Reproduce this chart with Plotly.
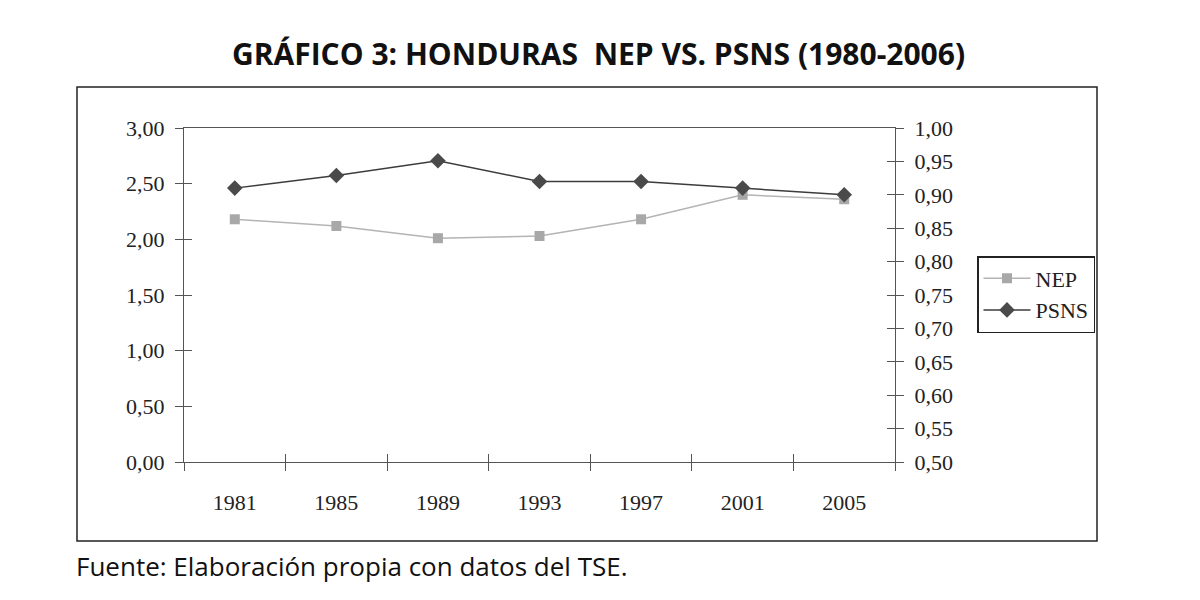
import plotly.graph_objects as go

years = ["1981", "1985", "1989", "1993", "1997", "2001", "2005"]
nep = [2.18, 2.12, 2.01, 2.03, 2.18, 2.40, 2.36]
psns = [0.910, 0.929, 0.951, 0.920, 0.920, 0.910, 0.900]

title_text = "GRÁFICO 3: HONDURAS  NEP VS. PSNS (1980-2006)"
source_text = "Fuente: Elaboración propia con datos del TSE."

serif = "Liberation Serif"
tickfont = dict(family=serif, size=22, color="#222")

# page offset (browser body margin)
OX, OY = 8, 8
L, R, T, B = 184 - OX, 895 - OX, 128 - OY, 462 - OY
W, H = 1200, 600
pw, ph = R - L, B - T


def px(x):
    return (x - OX - L) / pw


def py(y):
    return (B - (y - OY)) / ph


fig = go.Figure()
fig.add_trace(go.Scatter(
    x=years, y=nep, name="NEP", mode="lines+markers",
    line=dict(color="#b4b4b4", width=1.5),
    marker=dict(symbol="square", size=10, color="#a8a8a8"),
    xaxis="x", yaxis="y"))
fig.add_trace(go.Scatter(
    x=years, y=psns, name="PSNS", mode="lines+markers",
    line=dict(color="#3c3c3c", width=1.5),
    marker=dict(symbol="diamond", size=12, color="#4a4a4a"),
    xaxis="x", yaxis="y2"))
# invisible helper traces so the inside-tick overlay axes are drawn
fig.add_trace(go.Scatter(x=years, y=nep, mode="none", showlegend=False,
                         hoverinfo="skip", xaxis="x2", yaxis="y3"))
fig.add_trace(go.Scatter(x=years, y=psns, mode="none", showlegend=False,
                         hoverinfo="skip", xaxis="x2", yaxis="y4"))

axis_line = dict(showline=True, linecolor="#555", linewidth=1.2, showgrid=False,
                 zeroline=False, tickcolor="#555", tickwidth=1, ticklen=8)
xrange = [-0.5, len(years) - 0.5]

fig.update_layout(
    width=W, height=H,
    margin=dict(l=L, r=W - R, t=T, b=H - B, pad=0),
    paper_bgcolor="white", plot_bgcolor="white",
    separators=",.",
    showlegend=True,
    legend=dict(x=px(977), y=py(256), xanchor="left", yanchor="top",
                bordercolor="#222", borderwidth=1.5, bgcolor="white",
                font=dict(family=serif, size=22, color="#222"),
                itemwidth=47, tracegroupgap=2),
    xaxis=dict(type="category", categoryarray=years, categoryorder="array",
               range=xrange, autorange=False,
               tickson="boundaries", ticks="outside", mirror=True,
               tickfont=tickfont, ticklabelstandoff=20, **axis_line),
    xaxis2=dict(type="category", categoryarray=years, categoryorder="array",
                range=xrange, autorange=False,
                overlaying="x", anchor="y3", side="bottom",
                tickson="boundaries", ticks="inside", showticklabels=False,
                **axis_line),
    yaxis=dict(range=[0, 3], dtick=0.5, tickformat=".2f", ticks="outside",
               tickfont=tickfont, ticklabelstandoff=6, **axis_line),
    yaxis2=dict(range=[0.5, 1.0], dtick=0.05, tickformat=".2f", ticks="outside",
                overlaying="y", side="right", anchor="x",
                tickfont=tickfont, ticklabelstandoff=6, **axis_line),
    yaxis3=dict(range=[0, 3], dtick=0.5, ticks="inside", showticklabels=False,
                overlaying="y", side="left", anchor="x2", **axis_line),
    yaxis4=dict(range=[0.5, 1.0], dtick=0.05, ticks="inside", showticklabels=False,
                overlaying="y", side="right", anchor="x2", **axis_line),
)

# outer frame
fig.add_shape(type="rect", xref="paper", yref="paper",
              x0=px(77), x1=px(1097), y0=py(541), y1=py(87),
              line=dict(color="#222", width=1.5), layer="below")

fig.add_annotation(text="<b>" + title_text + "</b>", xref="paper", yref="paper",
                   x=px(598), y=py(54), xanchor="center", yanchor="middle",
                   showarrow=False, font=dict(family="Open Sans", size=30, color="#111"))
fig.add_annotation(text=source_text, xref="paper", yref="paper",
                   x=px(74), y=py(566), xanchor="left", yanchor="middle",
                   showarrow=False, font=dict(family="Open Sans", size=26, color="#111"))

fig.write_html("out.html")
